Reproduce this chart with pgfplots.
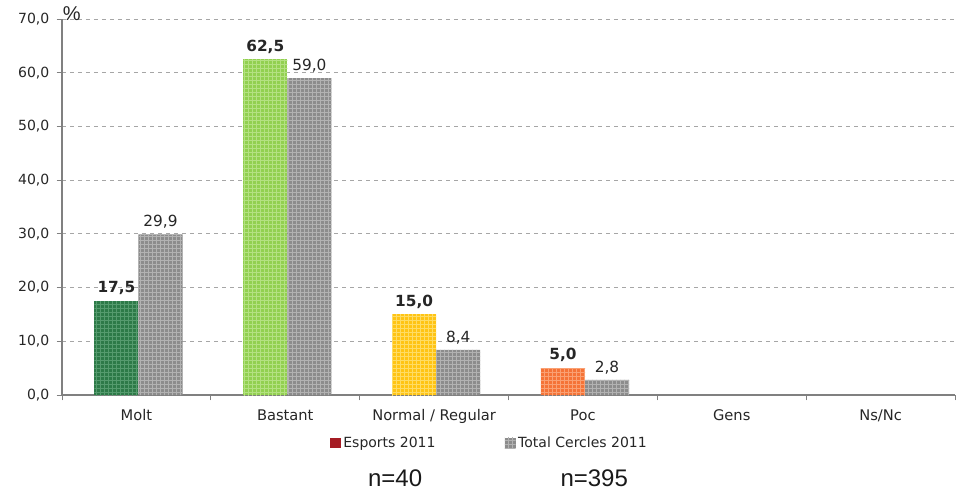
\documentclass[border=0pt]{standalone}
\usepackage{fontspec}
\setmainfont{DejaVu Sans}
\newfontfamily\arialfont{Liberation Sans}
\usepackage{pgfplots}
\pgfplotsset{compat=1.18}
\usetikzlibrary{patterns}

\definecolor{cMolt}{RGB}{45,122,72}
\definecolor{cMoltL}{RGB}{85,155,110}
\definecolor{cBast}{RGB}{146,208,80}
\definecolor{cBastL}{RGB}{180,225,130}
\definecolor{cNorm}{RGB}{255,196,20}
\definecolor{cNormL}{RGB}{255,220,100}
\definecolor{cPoc}{RGB}{245,115,55}
\definecolor{cPocL}{RGB}{250,160,115}
\definecolor{cGray}{RGB}{140,140,140}
\definecolor{cGrayL}{RGB}{178,178,178}
\definecolor{cLeg}{RGB}{165,28,36}

\begin{document}
\begin{tikzpicture}[x=1pt,y=1pt]
\useasboundingbox (-46.5,-72.75) rectangle (672.75,296.25);
\begin{axis}[
    at={(0,0)}, anchor=south west,
    scale only axis,
    width=669.75pt, height=282pt,
    xmin=-0.5, xmax=5.5, ymin=0, ymax=70,
    ybar, bar width=0.296,
    clip=false,
    axis x line*=bottom, axis y line*=left,
    axis line style={draw=black!50, line width=0.9pt, -},
    xtick={0,...,5},
    xticklabels={Molt,Bastant,Normal / Regular,Poc,Gens,Ns/Nc},
    minor xtick={-0.5,0.5,...,5.5},
    major x tick style={draw=none},
    minor x tick style={draw=black!50, line width=0.6pt},
    ytick={0,10,...,70},
    y tick style={draw=black!50, line width=0.6pt},
    tick align=outside,
    major tick length=4pt, minor tick length=4pt,
    ymajorgrids,
    major grid style={dashed, draw=black!35, line width=0.6pt},
    /pgf/number format/assume math mode=true,
    /pgf/number format/fixed,
    /pgf/number format/fixed zerofill,
    /pgf/number format/precision=1,
    /pgf/number format/use comma,
    yticklabel style={font=\fontsize{10.5}{12}\selectfont, text=black!85, xshift=-2pt},
    xticklabel style={font=\fontsize{11}{13}\selectfont, text=black!85, yshift=-3.5pt},
    nodes near coords,
    every node near coord/.append style={font=\fontsize{11.5}{13}\selectfont, text=black!85, yshift=1pt},
    legend style={at={(0.479,-0.128)}, anchor=center, draw=none,
        font=\fontsize{10.5}{12}\selectfont, text=black!85,
        /tikz/every even column/.append style={column sep=50pt}},
    legend columns=2,
    legend image code/.code={\path[#1] (0pt,-4pt) rectangle (8pt,4pt);},
]
\addplot[forget plot, bar shift=-0.134, fill=cMolt, draw=none,
    postaction={pattern=grid, pattern color=cMoltL},
    every node near coord/.append style={font=\bfseries\fontsize{11.5}{13}\selectfont}]
    coordinates {(0,17.5)};
\addplot[forget plot, bar shift=-0.134, fill=cBast, draw=none,
    postaction={pattern=grid, pattern color=cBastL},
    every node near coord/.append style={font=\bfseries\fontsize{11.5}{13}\selectfont}]
    coordinates {(1,62.5)};
\addplot[forget plot, bar shift=-0.134, fill=cNorm, draw=none,
    postaction={pattern=grid, pattern color=cNormL},
    every node near coord/.append style={font=\bfseries\fontsize{11.5}{13}\selectfont}]
    coordinates {(2,15.0)};
\addplot[forget plot, bar shift=-0.134, fill=cPoc, draw=none,
    postaction={pattern=grid, pattern color=cPocL},
    every node near coord/.append style={font=\bfseries\fontsize{11.5}{13}\selectfont}]
    coordinates {(3,5.0)};
\addplot[forget plot, bar shift=0.162, fill=cGray, draw=none,
    postaction={pattern=grid, pattern color=cGrayL}]
    coordinates {(0,29.9) (1,59.0) (2,8.4) (3,2.8)};

\addlegendimage{fill=cLeg, draw=none}
\addlegendentry{Esports 2011}
\addlegendimage{fill=cGray, draw=none, postaction={pattern=grid, pattern color=cGrayL}}
\addlegendentry{Total Cercles 2011}

\node[font=\arialfont\fontsize{15}{16}\selectfont, text=black!85] at (rel axis cs:0.011,1.013) {\%};
\node[font=\arialfont\fontsize{18}{20}\selectfont, text=black!90] at (rel axis cs:0.373,-0.221) {n=40};
\node[font=\arialfont\fontsize{18}{20}\selectfont, text=black!90] at (rel axis cs:0.596,-0.221) {n=395};
\end{axis}
\end{tikzpicture}
\end{document}
